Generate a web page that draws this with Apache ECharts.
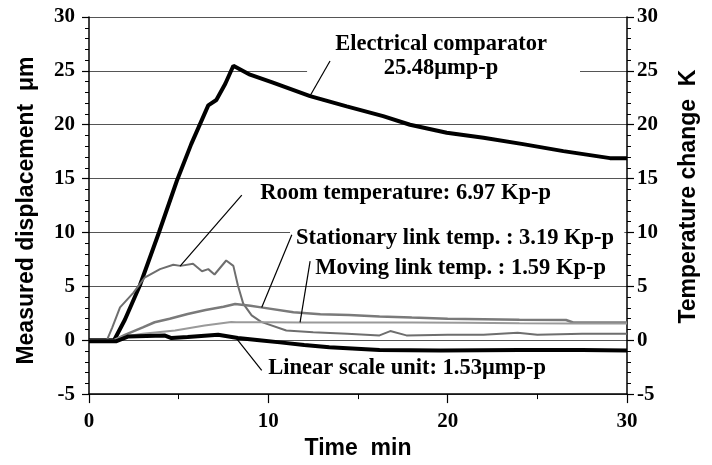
<!DOCTYPE html>
<html><head><meta charset="utf-8">
<script src="https://cdn.jsdelivr.net/npm/echarts@6/dist/echarts.min.js"></script>
<style>html,body{margin:0;padding:0;background:#fff}#c{width:712px;height:465px}</style>
</head><body><div id="c"></div>
<script>
// ---- data (time in min) ----
const compT = [0, 1.4, 2.0, 2.84, 3.9, 4.9, 5.7, 6.65, 7.1, 7.6, 8.05, 8.98, 10.26, 12.33, 14.37, 16.4, 17.9, 19.95, 22.0, 24.2, 26.45, 29.05, 30];
const compV = [0, 0, 1.9, 5.1, 10.0, 14.8, 18.2, 21.8, 22.3, 23.8, 25.48, 24.65, 23.9, 22.65, 21.7, 20.8, 20.0, 19.26, 18.8, 18.2, 17.55, 16.9, 16.9];

const roomT = [0, 1.0, 1.3, 1.73, 2.47, 3.1, 3.96, 4.7, 5.1, 5.8, 6.3, 6.65, 7.0, 7.65, 8.05, 8.3, 8.6, 9.07, 9.6, 11.0, 12.5, 14.4, 16.2, 16.8, 17.7, 20, 22, 23.9, 25, 27.5, 30];
const roomV = [0, 0, 1.2, 3.05, 4.4, 5.8, 6.6, 7.0, 6.9, 7.1, 6.4, 6.6, 6.1, 7.4, 6.9, 5.1, 3.4, 2.3, 1.7, 0.9, 0.75, 0.6, 0.45, 0.85, 0.45, 0.5, 0.5, 0.7, 0.5, 0.6, 0.6];

const statT = [0, 1.4, 2.0, 3.0, 3.66, 4.5, 5.5, 6.5, 7.5, 8.15, 9.0, 9.6, 11.4, 12.9, 14.5, 16.2, 18, 20, 22, 24, 26.6, 27, 30];
const statV = [0, 0, 0.5, 1.2, 1.67, 2.0, 2.44, 2.8, 3.1, 3.36, 3.2, 3.05, 2.6, 2.4, 2.35, 2.2, 2.1, 2.0, 1.95, 1.9, 1.88, 1.65, 1.65];

const movT = [0, 1.4, 1.8, 3.0, 4.8, 6.45, 7.93, 8.2, 9.9, 12, 15, 18, 21, 24, 27, 30];
const movV = [0, 0, 0.3, 0.6, 0.9, 1.36, 1.7, 1.67, 1.67, 1.65, 1.65, 1.65, 1.62, 1.58, 1.55, 1.55];

const linT = [0, 1.5, 2.2, 4.2, 4.6, 5.5, 7.2, 8.3, 9.5, 10.65, 12, 13.4, 16.2, 19.6, 24, 27.5, 30];
const linV = [-0.1, -0.1, 0.35, 0.45, 0.2, 0.3, 0.5, 0.2, 0.0, -0.2, -0.45, -0.65, -0.9, -0.95, -0.9, -0.9, -0.95];

// axes
const xMin = 0, xMax = 30, xStep = 10;
const yMin = -5, yMax = 30, yStep = 5;

// annotation texts and positions (data coordinates)
const labelTexts = ['Electrical comparator\n25.48μmp-p', 'Room temperature: 6.97 Kp-p', 'Stationary link temp. : 3.19 Kp-p', 'Moving link temp. : 1.59 Kp-p', 'Linear scale unit: 1.53μmp-p'];
const labelPos = [[19.63, 26.34], [17.65, 13.63], [20.41, 9.48], [20.72, 6.72], [17.74, -2.64]];
const leaderFrom = [[13.44, 25.91], [8.52, 13.47], [11.31, 9.79], [12.33, 7.34], [8.24, 0.12]];
const leaderTo = [[12.33, 22.69], [5.08, 6.88], [9.63, 3.04], [11.77, 1.66], [9.63, -2.79]];
// white masks behind labels that interrupt grid lines
const masks = [[[12.16, 24.04], [27.38, 28.83]], [[11.21, 8.29], [29.85, 10.5]]];

const zip = (t, v) => t.map((x, i) => [x, v[i]]);

const serif = 'Liberation Serif, Times New Roman, serif';
const sans = 'Liberation Sans, Arial, sans-serif';

const chart = echarts.init(document.getElementById('c'));
const yAxisCommon = {
  type: 'value', min: yMin, max: yMax, interval: yStep,
  axisLine: {show: true, lineStyle: {color: '#000', width: 1.5}},
  axisTick: {show: true, inside: false, length: 7, lineStyle: {color: '#000', width: 1.2}},
  minorTick: {show: true, splitNumber: 5, length: 4, lineStyle: {color: '#000', width: 1}},
  axisLabel: {fontFamily: serif, fontWeight: 'bold', fontSize: 21, color: '#000', margin: 14},
  nameLocation: 'middle', nameRotate: 90,
  nameTextStyle: {fontFamily: sans, fontWeight: 'bold', fontSize: 23, color: '#000'}
};
const lineBase = (name, data, color, width, yi) => ({
  name, type: 'line', data, yAxisIndex: yi, showSymbol: false, symbol: 'none',
  lineStyle: {color, width}, z: 2, animation: false
});

chart.setOption({
  animation: false,
  backgroundColor: '#fff',
  grid: {left: 89, right: 85, top: 17, bottom: 68, containLabel: false},
  xAxis: {
    type: 'value', min: xMin, max: xMax, interval: xStep,
    name: 'Time  min', nameLocation: 'middle', nameGap: 40,
    nameTextStyle: {fontFamily: sans, fontWeight: 'bold', fontSize: 23, color: '#000'},
    axisLine: {show: true, onZero: false, lineStyle: {color: '#000', width: 1.5}},
    axisTick: {show: true, length: 9, lineStyle: {color: '#000', width: 1.2}},
    minorTick: {show: true, splitNumber: 2, length: 5, lineStyle: {color: '#000', width: 1}},
    axisLabel: {fontFamily: serif, fontWeight: 'bold', fontSize: 21, color: '#000', margin: 17},
    splitLine: {show: false}
  },
  yAxis: [
    Object.assign({}, yAxisCommon, {
      position: 'left', name: 'Measured displacement  μm', nameGap: 51,
      nameTextStyle: Object.assign({}, yAxisCommon.nameTextStyle, {padding: [0, 10, 0, 0]}),
      splitLine: {show: true, lineStyle: {color: '#555', width: 1}}
    }),
    Object.assign({}, yAxisCommon, {
      position: 'right', name: 'Temperature change  K', nameGap: 50,
      nameTextStyle: Object.assign({}, yAxisCommon.nameTextStyle, {padding: [0, 0, 0, 18]}),
      axisLabel: Object.assign({}, yAxisCommon.axisLabel, {margin: 10}),
      splitLine: {show: false}
    })
  ],
  series: [
    Object.assign(lineBase('Electrical comparator', zip(compT, compV), '#000', 4, 0), {
      markArea: {silent: true, itemStyle: {color: '#fff'}, z: 1,
        data: masks.map(m => [{coord: m[0]}, {coord: m[1]}])}
    }),
    lineBase('Room temperature', zip(roomT, roomV), '#6e6e6e', 2, 1),
    lineBase('Stationary link temp.', zip(statT, statV), '#7a7a7a', 2.5, 1),
    lineBase('Moving link temp.', zip(movT, movV), '#9a9a9a', 2, 1),
    lineBase('Linear scale unit', zip(linT, linV), '#000', 4, 0),
    {
      name: 'annotations', type: 'line', data: [], yAxisIndex: 0, symbol: 'none',
      markLine: {silent: true, symbol: 'none', z: 6, animation: false,
        lineStyle: {color: '#000', width: 1.2, type: 'solid'}, label: {show: false},
        data: leaderFrom.map((f, i) => [{coord: f}, {coord: leaderTo[i]}])},
      markPoint: {silent: true, z: 7, animation: false, symbol: 'rect', symbolSize: 1,
        itemStyle: {color: 'rgba(0,0,0,0)'},
        label: {show: true, position: 'inside', color: '#000', fontFamily: serif, fontWeight: 'bold', fontSize: 22.5, lineHeight: 24, align: 'center'},
        data: labelPos.map((p, i) => ({coord: p, value: labelTexts[i], label: {formatter: labelTexts[i]}}))}
    }
  ]
});
</script></body></html>
